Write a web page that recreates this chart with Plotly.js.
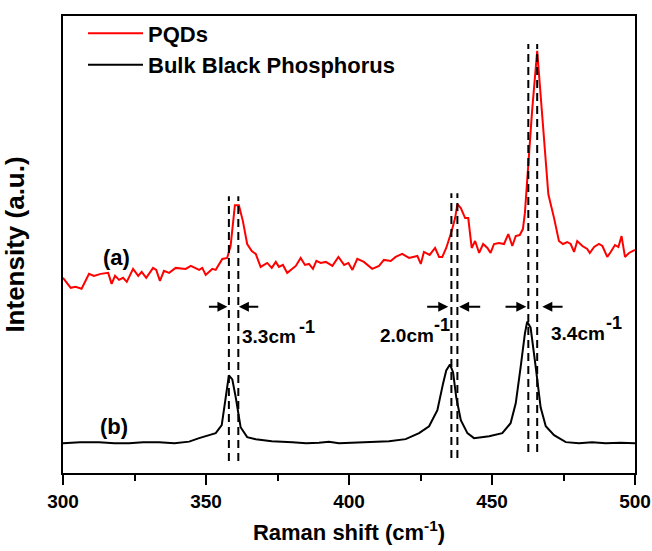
<!DOCTYPE html>
<html>
<head>
<meta charset="utf-8">
<script src="https://cdn.plot.ly/plotly-3.0.1.min.js"></script>
<style>html,body{margin:0;padding:0;background:#fff;}#chart{width:652px;height:551px;}</style>
</head>
<body>
<div id="chart"></div>
<script>
// Raman shift (cm^-1) and intensity (a.u.)
const pqdShift = [300,302.7,304.4,306.5,309.1,310.8,313.2,315.8,317.0,318.2,319.6,321.0,322.3,324.5,326.3,327.5,329.1,331.5,332.6,333.9,335.3,337.1,339.4,342.9,344.7,347.6,348.7,349.9,352.2,353.4,355.7,357.4,358.6,360.1,361.5,362.9,364.4,366.0,367.4,369.1,371.4,373.0,374.4,375.5,376.9,378.4,381.4,383.1,384.6,386.0,387.4,388.6,390.1,391.9,394.2,396.3,398.3,399.8,401.2,402.9,405.2,408.1,410.5,412.2,414.6,416.3,418.6,421.0,423.9,425.1,426.2,428.2,430.1,431.5,432.6,434.0,435.9,437.1,437.9,439.1,440.6,441.7,442.9,444.1,445.5,446.9,448.4,449.5,450.7,452.4,454.2,455.7,457.1,458.3,459.7,460.8,461.5,462.3,464.0,465.8,467.5,469.7,471.7,473.4,474.8,476.3,477.5,478.7,479.8,481.6,483.3,484.2,485.7,487.4,488.6,490.3,491.5,493.0,494.2,495.3,496.5,497.9,499.3,500];
const pqdInt = [185,175,176,174,189,187,189,190,179,187,183,185,181,194,187,191,185,195,193,182,192,190,195,194,197,193,195,188,194,193,204,205,217,258,258,242,219,212,209,196,200,195,201,196,198,190,197,205,198,199,194,202,200,201,197,206,198,200,193,204,201,194,197,203,202,206,209,205,207,199,211,208,215,206,206,215,232,245,259,255,245,245,215,222,210,219,215,210,219,220,219,229,217,227,228,234,250,282,352,413,352,269,245,222,219,221,219,211,222,217,214,210,216,219,217,206,211,218,216,227,206,210,212,213];

const bulkShift = [300,306,312.6,318,323.1,328,333.6,339,344.1,347.6,353.4,355.5,356.9,358.0,359.2,360.4,362.1,364.4,367.4,373,380.2,385,389.5,393,396.5,402,408.1,414,419.8,424.5,428.0,430.9,432.9,434.0,435.3,436.4,437.5,439.1,441.4,443.7,449.0,453.6,456.5,458.3,460.0,461.5,462.3,463.5,465.3,467.0,468.8,471.7,475.8,480.4,485,489.7,495,500];
const bulkInt = [19,20,20,19,19,20,20,19,20.5,24,29,37,65,87,83,65,35,25,23,21,20,19,19.5,20.5,19,19.5,20,21,23,29,36,52,79,92,98,90,65,42,29,24,26,29,39,59,95,129,141,135,95,55,36,27,20,19,20,19,19.5,19];

const seriesNames = ["PQDs", "Bulk Black Phosphorus"];
const seriesColors = ["#ff0000", "#000000"];

// Peak-position marker lines (cm^-1) and their vertical extents (a.u.)
const markerShift = [358.0, 361.3, 435.8, 437.9, 462.7, 465.8];
const markerBottom = [1, 1, 4, 4, 10, 10];
const markerTop = [267, 267, 270, 270, 420, 420];

// FWHM-shift arrows: [tail, head] in cm^-1, drawn at a common intensity
const arrowTail = [350.5, 368.8, 426.8, 446.4, 454.2, 475.2];
const arrowHead = [357.5, 361.5, 434.7, 438.5, 462.0, 467.6];
const arrowLevel = 156;

// Shift labels: value + unit, with the "-1" exponent placed as a raised label
const shiftValues = ["3.3cm", "2.0cm", "3.4cm"];
const shiftLabelX = [361.9, 410.1, 469.9];
const shiftLabelY = [126, 127.5, 129];
const shiftExponent = "-1";
const expX = [381.8, 429.0, 489.2];
const expY = [136, 138, 139.5];

const curveLabels = ["(a)", "(b)"];
const curveLabelX = [318.7, 317.8];
const curveLabelY = [205, 36];

const tickVals = [300, 350, 400, 450, 500];

const FONT = "Liberation Sans, Arial, sans-serif";

const traces = [
  {x: pqdShift, y: pqdInt, name: seriesNames[0], type: "scatter", mode: "lines",
   line: {color: seriesColors[0], width: 2}},
  {x: bulkShift, y: bulkInt, name: seriesNames[1], type: "scatter", mode: "lines",
   line: {color: seriesColors[1], width: 2}}
];

const shapes = markerShift.map((v, i) => ({
  type: "line", xref: "x", yref: "y", x0: v, x1: v, y0: markerBottom[i], y1: markerTop[i],
  line: {color: "#000", width: 2, dash: "8px,5px"}
}));

const annotations = [];
arrowTail.forEach((t, i) => {
  annotations.push({x: arrowHead[i], y: arrowLevel, ax: t, ay: arrowLevel, axref: "x", ayref: "y",
    xref: "x", yref: "y", text: "", showarrow: true, arrowhead: 2, arrowsize: 1, arrowwidth: 2, arrowcolor: "#000", standoff: 0});
});
shiftValues.forEach((s, i) => {
  annotations.push({x: shiftLabelX[i], y: shiftLabelY[i], xref: "x", yref: "y",
    text: s, showarrow: false,
    xanchor: "left", yanchor: "middle", font: {family: FONT, size: 19, weight: "bold", color: "#000"}});
  annotations.push({x: expX[i], y: expY[i], xref: "x", yref: "y",
    text: shiftExponent, showarrow: false,
    xanchor: "left", yanchor: "middle", font: {family: FONT, size: 18, weight: "bold", color: "#000"}});
});
curveLabels.forEach((s, i) => {
  annotations.push({x: curveLabelX[i], y: curveLabelY[i], xref: "x", yref: "y", text: s, showarrow: false,
    xanchor: "center", yanchor: "middle", font: {family: FONT, size: 22, weight: "bold", color: "#000"}});
});

const layout = {
  width: 652, height: 551,
  margin: {l: 63, r: 17, t: 14, b: 78},
  paper_bgcolor: "#fff", plot_bgcolor: "#fff",
  font: {family: FONT, color: "#000"},
  showlegend: true,
  legend: {x: 0.035, y: 1.008, xanchor: "left", yanchor: "top", bgcolor: "rgba(0,0,0,0)", itemwidth: 55,
    font: {family: FONT, size: 22, weight: "bold", color: "#000"}, tracegroupgap: 0},
  xaxis: {range: [300, 500], tickvals: tickVals, ticks: "outside", ticklen: 10, tickwidth: 2, tickcolor: "#000",
    minor: {dtick: 25, tick0: 300, ticks: "outside", ticklen: 6, tickwidth: 2, tickcolor: "#000", showgrid: false},
    showgrid: false, zeroline: false, showline: true, linewidth: 2, linecolor: "#000", mirror: true,
    tickfont: {family: FONT, size: 19, weight: "bold"},
    title: {text: "Raman shift (cm<sup>-1</sup>)", font: {family: FONT, size: 22, weight: "bold"}, standoff: 14}},
  yaxis: {range: [-11, 448], showticklabels: false, ticks: "", showgrid: false, zeroline: false,
    showline: true, linewidth: 2, linecolor: "#000", mirror: true,
    title: {text: "Intensity (a.u.)", font: {family: FONT, size: 26, weight: "bold"}, standoff: 30}},
  shapes: shapes,
  annotations: annotations
};

Plotly.newPlot("chart", traces, layout, {displayModeBar: false, staticPlot: true});
</script>
</body>
</html>
